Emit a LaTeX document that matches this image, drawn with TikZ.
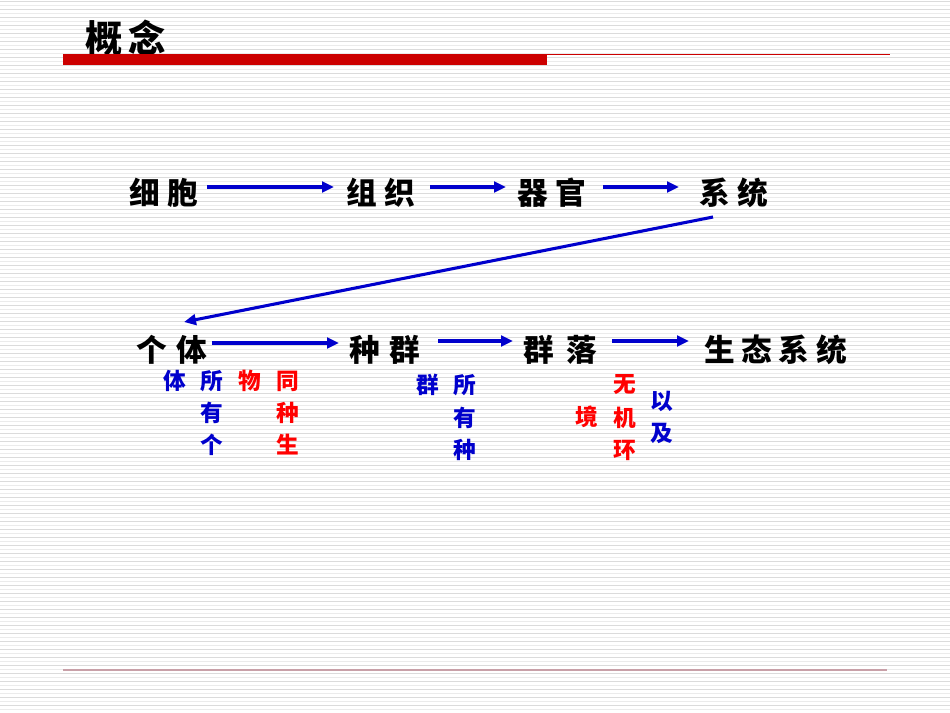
\documentclass[tikz,border=0pt]{standalone}
\usepackage{fontspec}
\newfontfamily\cjk{Noto Sans CJK SC}
\usetikzlibrary{arrows.meta}
\definecolor{arrblue}{HTML}{0000CC}
\definecolor{txtblue}{HTML}{0000CC}
\definecolor{txtred}{HTML}{FF0000}
\definecolor{barred}{HTML}{CC0000}
\definecolor{footline}{HTML}{C8A0A8}
\newcommand\gp[1]{\hspace{#1pt}}
\tikzset{
  big/.style={font=\cjk\bfseries\fontsize{23}{25}\selectfont, inner sep=0pt, text=black},
  title/.style={font=\cjk\bfseries\fontsize{28}{30}\selectfont, inner sep=0pt, text=black},
  small/.style={font=\cjk\bfseries\fontsize{17}{18}\selectfont, inner sep=0pt},
  sb/.style={small, text=txtblue},
  sr/.style={small, text=txtred},
  arr/.style={draw=arrblue, line width=2.3pt, -{Triangle[length=9pt,width=8pt]}},
}
\begin{document}
\begin{tikzpicture}[x=0.75pt,y=-0.75pt]
\useasboundingbox (0,0) rectangle (950,713);
\fill[white] (0,0) rectangle (950,713);
\foreach \i in {0,...,88} {
  \draw[line width=0.75pt, gray!28] (0,{8*\i+1.5}) -- (950,{8*\i+1.5});
  \draw[line width=0.75pt, gray!16] (0,{8*\i+5.5}) -- (950,{8*\i+5.5});
}
% header
\node[title, anchor=west] (title) at (85,38) {概\gp{4.5}念};
\fill[barred] (63,54) rectangle (547,65);
\draw[barred, line width=1.2pt] (547,54.5) -- (890,54.5);
\draw[footline, line width=1pt] (63,670) -- (887,670);
% row 1
\node[big, anchor=west] (xb) at (129,193) {细\gp{6}胞};
\node[big, anchor=west] (zz) at (346,193) {组\gp{5.5}织};
\node[big, anchor=west] (qg) at (517,193) {器\gp{5.5}官};
\node[big, anchor=west] (xt) at (699,193) {系\gp{5.5}统};
\coordinate (a1s) at (207,187); \coordinate (a1e) at (334,187);
\coordinate (a2s) at (430,187); \coordinate (a2e) at (506,187);
\coordinate (a3s) at (603,187); \coordinate (a3e) at (679,187);
\draw[arr] (a1s) -- (a1e);
\draw[arr] (a2s) -- (a2e);
\draw[arr] (a3s) -- (a3e);
% row 2
\node[big, anchor=west] (gt) at (136,350) {个\gp{7}体};
\node[big, anchor=west] (zq) at (349,350) {种\gp{7.5}群};
\node[big, anchor=west] (ql) at (523,350) {群\gp{9.5}落};
\node[big, anchor=west] (st) at (704,350) {生\gp{5}态\gp{5}系\gp{5}统};
\coordinate (d1) at (713,217); \coordinate (d2) at (184,322);
\draw[arr] (d1) -- (d2);
\coordinate (b1s) at (212,343); \coordinate (b1e) at (339,343);
\coordinate (b2s) at (438,341); \coordinate (b2e) at (513,341);
\coordinate (b3s) at (612,341); \coordinate (b3e) at (689,341);
\draw[arr] (b1s) -- (b1e);
\draw[arr] (b2s) -- (b2e);
\draw[arr] (b3s) -- (b3e);
% annotations
\node[sb] (c1) at (175,381) {体};
\node[sb] (c2) at (212,381) {所};
\node[sb] (c3) at (212,413) {有};
\node[sb] (c4) at (212,445) {个};
\node[sr] (c5) at (250,381) {物};
\node[sr] (c6) at (288,381) {同};
\node[sr] (c7) at (288,413) {种};
\node[sr] (c8) at (288,445) {生};
\node[sb] (e1) at (428,385) {群};
\node[sb] (e2) at (465,385) {所};
\node[sb] (e3) at (465,418) {有};
\node[sb] (e4) at (465,450) {种};
\node[sr] (f1) at (587,417) {境};
\node[sr] (f2) at (625,385) {无};
\node[sr] (f3) at (625,418) {机};
\node[sr] (f4) at (625,450) {环};
\node[sb] (g1) at (662,401) {以};
\node[sb] (g2) at (662,433) {及};
\end{tikzpicture}
\end{document}
